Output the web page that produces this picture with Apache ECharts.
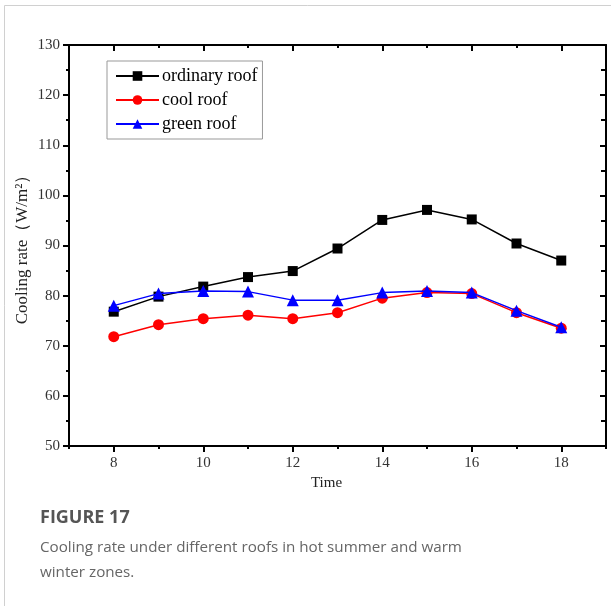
<!DOCTYPE html>
<html>
<head>
<meta charset="utf-8">
<script src="https://cdn.jsdelivr.net/npm/echarts@6/dist/echarts.min.js"></script>
<style>
html,body{margin:0;padding:0;background:#fff;}
#chart{width:611px;height:606px;}
</style>
</head>
<body>
<div id="chart"></div>
<script>
const hours = [8, 9, 10, 11, 12, 13, 14, 15, 16, 17, 18];
const ordinaryRoof = [76.8, 79.8, 81.8, 83.7, 84.9, 89.4, 95.1, 97.1, 95.2, 90.4, 87.0];
const coolRoof = [71.8, 74.2, 75.4, 76.1, 75.4, 76.6, 79.5, 80.6, 80.4, 76.6, 73.5];
const greenRoof = [78.0, 80.4, 80.9, 80.8, 79.1, 79.1, 80.6, 80.9, 80.6, 77.0, 73.7];
const seriesNames = ['ordinary roof', 'cool roof', 'green roof'];
const xMajorTicks = [8, 10, 12, 14, 16, 18];
const xMinorTicks = [7, 9, 11, 13, 15, 17, 19];

const serif = "'Liberation Serif', 'DejaVu Serif', serif";
const sans = "'Open Sans', 'Noto Sans', sans-serif";
const pair = arr => hours.map((h, i) => [h, arr[i]]);

const chart = echarts.init(document.getElementById('chart'), null, {renderer: 'canvas'});
const blk = {color: '#000', width: 2};
const axisLine = {show: true, onZero: false, lineStyle: blk};
const noLine = {show: false};

function xAx(pos, ticks, len, inside, showLine, label) {
  return {
    type: 'value', min: 7, max: 19, interval: 1, position: pos,
    axisLine: showLine ? axisLine : noLine,
    axisTick: {show: true, inside: inside, length: len, customValues: ticks, lineStyle: blk},
    splitLine: {show: false},
    axisLabel: label ? {fontFamily: serif, fontSize: 15, color: '#333', margin: 10, customValues: xMajorTicks} : {show: false}
  };
}

const xAxes = [
  Object.assign(xAx('bottom', xMajorTicks, 6, false, true, true), {
    name: 'Time', nameLocation: 'middle', nameGap: 30,
    nameTextStyle: {fontFamily: serif, fontSize: 15, color: '#222', padding: [0, 22, 0, 0]}
  }),
  xAx('bottom', xMinorTicks, 3, false, false, false),
  xAx('top', xMajorTicks, 6, true, true, false),
  xAx('top', xMinorTicks, 3, true, false, false)
];

chart.setOption({
  animation: false,
  backgroundColor: '#fff',
  grid: {left: 69, right: 5, top: 45, bottom: 160, containLabel: false},
  legend: {
    orient: 'vertical',
    left: 107, top: 61,
    itemWidth: 43, itemHeight: 12,
    itemGap: 6,
    padding: [6, 5, 6, 8],
    borderColor: '#999', borderWidth: 1,
    textStyle: {fontFamily: serif, fontSize: 18, color: '#000', padding: [0, 0, 0, -2]},
    data: seriesNames
  },
  xAxis: xAxes,
  yAxis: [{
    type: 'value', min: 50, max: 130, interval: 10, position: 'left',
    axisLine: axisLine,
    axisTick: {show: true, length: 6, lineStyle: blk},
    minorTick: {show: true, splitNumber: 2, length: 3, lineStyle: blk},
    splitLine: {show: false},
    axisLabel: {fontFamily: serif, fontSize: 15, color: '#333', margin: 9},
    name: 'Cooling rate（W/m²）', nameLocation: 'middle', nameGap: 38, nameRotate: 90,
    nameMoveOverlap: false,
    nameTextStyle: {fontFamily: serif, fontSize: 17, color: '#222'}
  }, {
    type: 'value', min: 50, max: 130, interval: 10, position: 'right',
    axisLine: axisLine,
    axisTick: {show: true, inside: true, length: 6, lineStyle: blk},
    minorTick: {show: true, splitNumber: 2, length: 5, lineStyle: blk},
    splitLine: {show: false}, axisLabel: {show: false}
  }],
  series: [{
    name: seriesNames[0], type: 'line', xAxisIndex: 0, yAxisIndex: 0,
    data: pair(ordinaryRoof), symbol: 'rect', symbolSize: 10,
    lineStyle: {color: '#000', width: 1.5}, itemStyle: {color: '#000'}, z: 3
  }, {
    name: seriesNames[1], type: 'line', xAxisIndex: 0, yAxisIndex: 0,
    data: pair(coolRoof), symbol: 'circle', symbolSize: 11,
    lineStyle: {color: '#ff0000', width: 1.5}, itemStyle: {color: '#ff0000'}, z: 4
  }, {
    name: seriesNames[2], type: 'line', xAxisIndex: 0, yAxisIndex: 0,
    data: pair(greenRoof), symbol: 'triangle', symbolSize: 12,
    lineStyle: {color: '#0000ff', width: 1.5}, itemStyle: {color: '#0000ff'}, z: 5
  }],
  graphic: [
    {type: 'line', shape: {x1: 4.5, y1: 5.5, x2: 611, y2: 5.5}, style: {stroke: '#d0d0d0', lineWidth: 1}, silent: true},
    {type: 'line', shape: {x1: 4.5, y1: 5.5, x2: 4.5, y2: 606}, style: {stroke: '#d0d0d0', lineWidth: 1}, silent: true},
    {type: 'text', left: 40, top: 509, style: {text: 'FIGURE 17', fontFamily: sans, fontSize: 18, fontWeight: 'bold', fill: '#555'}},
    {type: 'text', left: 40, top: 535, style: {text: 'Cooling rate under different roofs in hot summer and warm\nwinter zones.', fontFamily: sans, fontSize: 15.2, lineHeight: 25, fill: '#666'}}
  ]
});
</script>
</body>
</html>
